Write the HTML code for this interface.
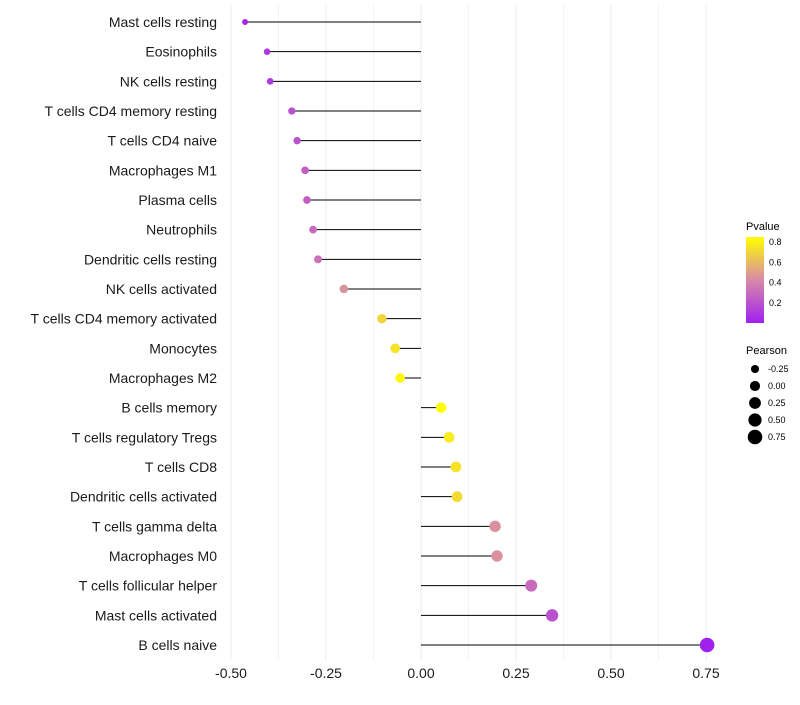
<!DOCTYPE html>
<html><head><meta charset="utf-8"><style>
body{margin:0;background:#fff;font-family:"Liberation Sans",sans-serif}
</style></head><body>
<svg id="chart" width="800" height="700" xmlns="http://www.w3.org/2000/svg">
<defs><linearGradient id="pg" x1="0" y1="1" x2="0" y2="0">
<stop offset="0" stop-color="#A020F0"/><stop offset="0.5" stop-color="#D88AA8"/><stop offset="1" stop-color="#FFFF00"/>
</linearGradient></defs>
<g id="grid"></g><g id="marks"></g><g id="labels"></g><g id="legend"></g>
</svg>
<script>
const categories=["Mast cells resting","Eosinophils","NK cells resting","T cells CD4 memory resting","T cells CD4 naive","Macrophages M1","Plasma cells","Neutrophils","Dendritic cells resting","NK cells activated","T cells CD4 memory activated","Monocytes","Macrophages M2","B cells memory","T cells regulatory  Tregs ","T cells CD8","Dendritic cells activated","T cells gamma delta","Macrophages M0","T cells follicular helper","Mast cells activated","B cells naive"];
const pearson=[-0.463,-0.405,-0.397,-0.34,-0.326,-0.305,-0.30,-0.284,-0.271,-0.203,-0.103,-0.068,-0.055,0.053,0.074,0.092,0.095,0.195,0.2,0.29,0.345,0.753];
const pvalue=[0.02,0.1,0.1,0.2,0.2,0.25,0.25,0.3,0.33,0.45,0.7,0.75,0.82,0.85,0.78,0.75,0.72,0.45,0.45,0.3,0.2,0.0];
const xTicks=[-0.5,-0.25,0,0.25,0.5,0.75];
const xTickLabels=["-0.50","-0.25","0.00","0.25","0.50","0.75"];
const pTicks=[0.2,0.4,0.6,0.8];
const sizeLegend=[-0.25,0,0.25,0.5,0.75];

const NS="http://www.w3.org/2000/svg";
const X=v=>421+v*380;
const Y=i=>22+i*(623/21);
const pmin=Math.min(...pvalue);
const R=v=>Math.sqrt(Math.max(2.5,25.6+36.5*v));
function lerp(a,b,t){return a.map((x,k)=>Math.round(x+(b[k]-x)*t));}
function col(p){const t=(p-pmin)/(0.85-pmin);const c0=[160,32,240],c1=[216,138,168],c2=[255,255,0];
 const c=t<0.5?lerp(c0,c1,t*2):lerp(c1,c2,Math.min(1,(t-0.5)*2));return `rgb(${c})`;}
function el(tag,attrs,parent,text){const e=document.createElementNS(NS,tag);for(const k in attrs)e.setAttribute(k,attrs[k]);if(text!==undefined)e.textContent=text;parent.appendChild(e);return e;}
const grid=document.getElementById('grid'),marks=document.getElementById('marks'),labels=document.getElementById('labels'),legend=document.getElementById('legend');
for(let v=-0.5;v<=0.75001;v+=0.125){const g=el('line',{x1:X(v),x2:X(v),y1:5,y2:660,stroke:'#ebebeb','stroke-width':Math.abs((v*4)%1)<1e-6?1:0.6},grid);

}
xTicks.forEach((v,i)=>{const t=el('text',{x:X(v),y:678,'text-anchor':'middle','font-size':14,fill:'#1a1a1a'},labels,xTickLabels[i]);

});
categories.forEach((c,i)=>{
 const t=el('text',{x:217,y:Y(i)+5,'text-anchor':'end','font-size':14,fill:'#1a1a1a'},labels,c);
 
 
 const l=el('line',{x1:X(0),x2:X(pearson[i]),y1:Y(i),y2:Y(i),stroke:'#000','stroke-width':1},marks);
 
 
 const d=el('circle',{cx:X(pearson[i]),cy:Y(i),r:R(pearson[i]),fill:col(pvalue[i])},marks);
 
 
});
const lt=el('text',{x:746,y:230,'font-size':11},legend,'Pvalue');


const cb=el('rect',{x:746,y:237,width:18,height:86,fill:'url(#pg)'},legend);


const PY=p=>323-(p-pmin)/(0.85-pmin)*86;
pTicks.forEach(p=>{const t=el('text',{x:769,y:PY(p)+3,'font-size':9},legend,p.toFixed(1));

});
const st=el('text',{x:746,y:354,'font-size':11},legend,'Pearson');


sizeLegend.forEach((v,i)=>{const y=369+i*17;
 const c=el('circle',{cx:755,cy:y,r:R(v),fill:'#000'},legend);
 
 
 const t=el('text',{x:768,y:y+3,'font-size':9},legend,v.toFixed(2));
 
 });
</script>
</body></html>
